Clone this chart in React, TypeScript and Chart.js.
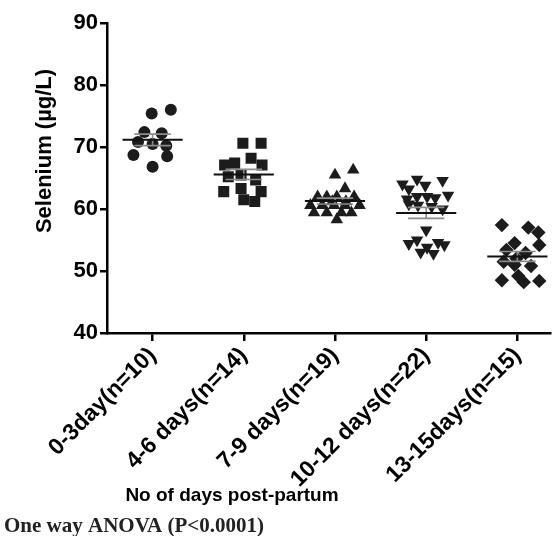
import React, { useEffect, useRef } from "react";
import { Chart, registerables } from "chart.js";
Chart.register(...registerables);

const categories = ["0-3day(n=10)", "4-6 days(n=14)", "7-9 days(n=19)", "10-12 days(n=22)", "13-15days(n=15)"];
const yTickValues = [40, 50, 60, 70, 80, 90];
const yTitle = "Selenium (\u00b5g/L)";
const xTitle = "No of days post-partum";
const note = "One way ANOVA (P<0.0001)";

const g1Values = [76.0, 75.4, 72.4, 72.2, 70.8, 70.5, 70.2, 68.7, 68.5, 66.8];
const g1Spread = [0.2, -0.01, -0.09, 0.1, -0.16, 0.0, 0.15, -0.21, 0.16, 0.0];
const g2Values = [70.6, 70.6, 68.2, 67.4, 67.1, 67.1, 65.5, 65.2, 64.7, 63.3, 62.8, 62.8, 61.5, 61.2];
const g2Spread = [-0.01, 0.19, 0.08, -0.1, -0.21, 0.2, -0.03, -0.17, 0.13, -0.03, -0.22, 0.19, 0.0, 0.12];
const g3Values = [66.3, 65.5, 63.3, 62.0, 62.0, 62.0, 62.0, 61.2, 61.2, 60.6, 60.6, 60.6, 60.6, 60.6, 59.4, 59.4, 59.4, 59.4, 58.3];
const g3Spread = [0.2, 0.0, 0.11, -0.19, -0.09, 0.02, 0.21, -0.03, 0.12, -0.27, -0.14, -0.01, 0.11, 0.27, -0.23, -0.09, 0.07, 0.18, 0.02];
const g4Values = [64.8, 64.6, 64.0, 63.8, 63.2, 62.2, 62.0, 62.0, 61.8, 61.6, 60.8, 60.6, 60.4, 60.0, 56.6, 55.0, 54.6, 54.4, 54.2, 53.8, 53.0, 52.8];
const g4Spread = [-0.1, 0.18, -0.26, -0.01, -0.19, 0.24, -0.1, 0.01, 0.1, -0.21, -0.19, -0.09, 0.06, 0.18, 0.0, -0.1, 0.13, -0.19, 0.2, 0.01, -0.06, 0.08];
const g5Values = [57.4, 57.0, 56.2, 54.5, 54.2, 53.4, 52.9, 52.0, 51.5, 51.0, 50.8, 49.2, 48.5, 48.4, 48.2];
const g5Spread = [-0.17, 0.12, 0.23, -0.03, 0.24, -0.12, 0.09, -0.01, -0.15, -0.03, 0.15, 0.01, -0.17, 0.24, 0.07];

const groupValues = [g1Values, g2Values, g3Values, g4Values, g5Values];
const groupSpread = [g1Spread, g2Spread, g3Spread, g4Spread, g5Spread];
const pointStyles = ["circle", "rect", "triangle", "triangle", "rectRot"];
const pointRotations = [0, 0, 0, 180, 0];
const pointRadii = [6, 7.8, 7.2, 7.2, 7.2];

const INK = "#1c1c1c";

const statsPlugin = {
  id: "stats",
  afterDatasetsDraw(chart: any) {
    const { ctx, scales } = chart;
    const x = scales.x;
    const y = scales.y;
    groupValues.forEach((vals, i) => {
      const n = vals.length;
      const mean = vals.reduce((a, b) => a + b, 0) / n;
      const sd = Math.sqrt(vals.reduce((a, b) => a + (b - mean) * (b - mean), 0) / (n - 1));
      const sem = sd / Math.sqrt(n);
      const c = i + 1;
      ctx.save();
      ctx.strokeStyle = "#8c8c8c";
      ctx.lineWidth = 1.6;
      ctx.beginPath();
      ctx.moveTo(x.getPixelForValue(c), y.getPixelForValue(mean - sem));
      ctx.lineTo(x.getPixelForValue(c), y.getPixelForValue(mean + sem));
      [mean - sem, mean + sem].forEach((v) => {
        ctx.moveTo(x.getPixelForValue(c - 0.2), y.getPixelForValue(v));
        ctx.lineTo(x.getPixelForValue(c + 0.2), y.getPixelForValue(v));
      });
      ctx.stroke();
      ctx.strokeStyle = "#111";
      ctx.lineWidth = 2;
      ctx.beginPath();
      ctx.moveTo(x.getPixelForValue(c - 0.33), y.getPixelForValue(mean));
      ctx.lineTo(x.getPixelForValue(c + 0.33), y.getPixelForValue(mean));
      ctx.stroke();
      ctx.restore();
    });
  },
  afterDraw(chart: any) {
    const { ctx } = chart;
    ctx.save();
    ctx.fillStyle = "#000";
    ctx.textAlign = "center";
    ctx.textBaseline = "middle";
    ctx.save();
    ctx.translate(45, 151);
    ctx.rotate(-Math.PI / 2);
    ctx.font = "bold 22px 'Liberation Sans', Arial, sans-serif";
    ctx.fillText(yTitle, 0, 0);
    ctx.restore();
    ctx.font = "bold 19px 'Liberation Sans', Arial, sans-serif";
    ctx.fillText(xTitle, 232, 496);
    ctx.textAlign = "left";
    ctx.font = "bold 21px 'Liberation Serif', 'Times New Roman', serif";
    ctx.fillStyle = "#222";
    ctx.fillText(note, 4, 527);
    ctx.restore();
  },
};

export default function App() {
  const ref = useRef<HTMLCanvasElement | null>(null);
  useEffect(() => {
    if (!ref.current) return;
    const datasets = groupValues.map((vals, i) => ({
      label: categories[i],
      data: vals.map((v, j) => ({ x: i + 1 + groupSpread[i][j], y: v })),
      pointStyle: pointStyles[i],
      rotation: pointRotations[i],
      pointRadius: pointRadii[i],
      backgroundColor: INK,
      borderColor: INK,
      borderWidth: 0,
      showLine: false,
    }));
    const chart = new Chart(ref.current, {
      type: "scatter",
      data: { datasets } as any,
      plugins: [statsPlugin],
      options: {
        animation: false,
        responsive: false,
        devicePixelRatio: 1,
        layout: { padding: { top: 23, right: 1, left: 0, bottom: 0 } },
        plugins: { legend: { display: false }, tooltip: { enabled: false } },
        scales: {
          x: {
            type: "linear",
            min: 0.5,
            max: 5.36,
            afterBuildTicks: (scale: any) => {
              scale.ticks = categories.map((_, i) => ({ value: i + 1 }));
            },
            afterFit: (scale: any) => {
              scale.height = 203;
            },
            ticks: {
              autoSkip: false,
              minRotation: 45,
              maxRotation: 45,
              padding: 1,
              color: "#000",
              font: { family: "'Liberation Sans', Arial, sans-serif", size: 23, weight: "bold" },
              callback: (v: any) => categories[Math.round(v) - 1] ?? "",
            },
            grid: { drawOnChartArea: false, drawTicks: true, tickLength: 8, color: "#000", lineWidth: 2.5 },
            border: { display: true, color: "#000", width: 2.5 },
          },
          y: {
            min: 40,
            max: 90,
            afterBuildTicks: (scale: any) => {
              scale.ticks = yTickValues.map((v) => ({ value: v }));
            },
            afterFit: (scale: any) => {
              scale.width = 107;
            },
            ticks: {
              padding: 2,
              color: "#000",
              font: { family: "'Liberation Sans', Arial, sans-serif", size: 22, weight: "bold" },
            },
            grid: { drawOnChartArea: false, drawTicks: true, tickLength: 7, color: "#000", lineWidth: 2.5 },
            border: { display: true, color: "#000", width: 2.5 },
          },
        },
      } as any,
    });
    return () => chart.destroy();
  }, []);
  return (
    <div style={{ position: "absolute", left: 0, top: 0, width: 558, height: 536, background: "#fff" }}>
      <canvas ref={ref} width={558} height={536} style={{ display: "block" }} />
    </div>
  );
}
